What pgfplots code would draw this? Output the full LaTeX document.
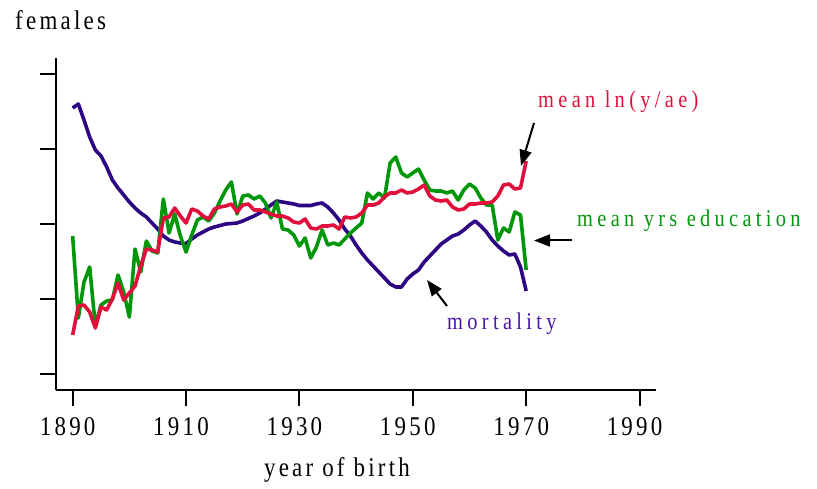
\documentclass[border=0pt]{standalone}
\usepackage{fontspec}
\setmainfont{Liberation Serif}
\newfontfamily\lbl{Liberation Serif}[FakeStretch=0.85,LetterSpace=12]
\newfontfamily\crv{Liberation Serif}[FakeStretch=0.85,LetterSpace=18]
\usepackage{pgfplots}
\usepackage{pgfplotstable}
\pgfplotsset{compat=1.18}
\usetikzlibrary{arrows.meta}
\definecolor{mortc}{RGB}{45,5,130}
\definecolor{mortt}{RGB}{75,20,170}
\definecolor{incc}{RGB}{225,15,60}
\definecolor{educ}{RGB}{0,150,10}
\pgfplotstableread{
year mort inc edu
1890 282 55 154
1891 286 84 72
1892 270 85 108
1893 253 78 123
1894 240 62 64
1895 234 83 85
1896 223 80 89
1897 210 91 90
1898 202 107 115
1899 195 90 98
1900 188 97 73
1901 182 104 141
1902 177 124 118
1903 173 141 149
1904 167 140 139
1905 161 138 137
1906 154 172 191
1907 150 173 157
1908 148 182 176
1909 147 174 154
1910 146.5 167 138
1911 151 181 155
1912 155 179 170
1913 158 174 173
1914 161 171 169
1915 163 181 177
1916 164.5 183 189
1917 166 184 200
1918 166.5 186 208
1919 167 178 176
1920 169 185 194
1921 171.5 186 195
1922 174 180 191
1923 177 180 194
1924 181 178 187
1925 185 176 172
1926 189 174 188
1927 188 174 161
1928 187 172 160
1929 186 168 155
1930 184.5 167 144
1931 184.5 171 152
1932 184.5 162 132
1933 186 161 143
1934 187 164 160
1935 183 164 145
1936 177 165 147
1937 170 161 145
1938 161 173 151
1939 154 172 157
1940 145 173 162
1941 137 177 167
1942 130 185 197
1943 124 185 191
1944 118 187 197
1945 112 193 192
1946 106 197 227
1947 103 197 233
1948 103 200 217
1949 111 197 213
1950 116 198 217
1951 120 201 221
1952 128 205 210
1953 134 194 200
1954 140 190 199
1955 146 189 199
1956 150 190 197
1957 154 183 199
1958 156 180 190
1959 160 181 200
1960 165 186 206
1961 169 186 202
1962 164 187 192
1963 158 187 185
1964 150 188 185
1965 144 194 150
1966 139 205 162
1967 135 206 158
1968 136 201 178
1969 123 202 175
1970 99 229 120
}\datatable
\begin{document}
\begin{tikzpicture}
\useasboundingbox (0pt,0pt) rectangle (817pt,-489pt);
\begin{axis}[
  at={(56pt,-390pt)}, anchor=south west,
  scale only axis, width=600pt, height=332pt,
  xmin=1887.06, xmax=1992.9, ymin=0, ymax=332,
  axis x line=bottom, axis y line=left,
  axis line style={-, line width=2pt, black},
  tick align=outside,
  xtick={1890,1910,1930,1950,1970,1990},
  xticklabels={1890,1910,1930,1950,1970,1990},
  ytick={16,91,166,241,316}, yticklabels={},
  x tick style={line width=2pt, black},
  y tick style={line width=2pt, black},
  x tick label style={font=\lbl\fontsize{27}{27}\selectfont, inner sep=0pt, anchor=base, yshift=-29pt, xshift=-5pt},
  major tick length=16pt,
  clip=false,
]
\addplot[mortc, line width=3.6pt, line join=round] table[x=year, y=mort] {\datatable};
\addplot[educ, line width=3.6pt, line join=round] table[x=year, y=edu] {\datatable};
\addplot[incc, line width=3.6pt, line join=round] table[x=year, y=inc] {\datatable};
\end{axis}
\node[anchor=base west, inner sep=0pt, font=\lbl\fontsize{27}{27}\selectfont] at (15pt,-30pt) {females};
\node[anchor=base, inner sep=0pt, font=\lbl\fontsize{27}{27}\selectfont] at (337pt,-476pt) {year of birth};
\node[anchor=base west, inner sep=0pt, text=incc, font=\crv\fontsize{24}{24}\selectfont] at (538pt,-108pt) {mean ln(y/ae)};
\node[anchor=base west, inner sep=0pt, text=educ, font=\crv\fontsize{24}{24}\selectfont] at (577pt,-227pt) {mean yrs education};
\node[anchor=base west, inner sep=0pt, text=mortt, font=\crv\fontsize{24}{24}\selectfont] at (447pt,-329pt) {mortality};
\draw[line width=2pt, -{Triangle[length=16pt,width=12pt]}] (534pt,-123pt) -- (521pt,-166pt);
\draw[line width=2pt, -{Triangle[length=16pt,width=12pt]}] (572pt,-240.5pt) -- (534pt,-240.5pt);
\draw[line width=2pt, -{Triangle[length=16pt,width=12pt]}] (447pt,-306pt) -- (427pt,-280pt);
\end{tikzpicture}
\end{document}
